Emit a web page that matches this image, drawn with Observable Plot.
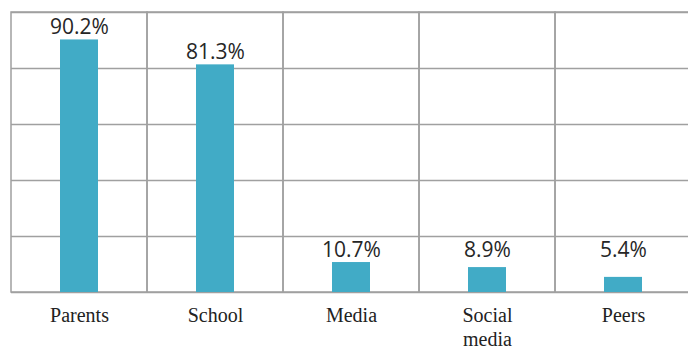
<!DOCTYPE html>
<html><head><meta charset="utf-8">
<script src="https://cdn.jsdelivr.net/npm/d3@7"></script>
<script src="https://cdn.jsdelivr.net/npm/@observablehq/plot@0.6"></script>
<style>
body{margin:0;background:#fff}
g[aria-label="category-labels"] text{font-family:"Liberation Serif","Times New Roman",serif !important;}
g[aria-label="value-labels"] text{font-family:"Open Sans",sans-serif !important;}
</style>
</head><body><div id="chart"></div>
<script>
const categories = ["Parents", "School", "Media", "Social media", "Peers"];
const tickLabels = ["Parents", "School", "Media", "Social\nmedia", "Peers"];
const values = [90.2, 81.3, 10.7, 8.9, 5.4];
const gridTicks = [0, 20, 40, 60, 80, 100];
const labelFloor = 10.7;

const data = categories.map((c, i) => ({category: c, label: tickLabels[i], value: values[i]}));
const gridColor = "#a0a0a0";

const chart = Plot.plot({
  width: 688,
  height: 349,
  marginLeft: 11,
  marginRight: -3,
  marginTop: 12,
  marginBottom: 57,
  x: {type: "band", domain: categories, padding: 0, axis: null},
  y: {domain: [0, 100], axis: null},
  marks: [
    Plot.ruleY(gridTicks, {stroke: gridColor, strokeWidth: 1.5}),
    Plot.barY(data, {x: "category", y1: 0, y2: 100, fill: "none", stroke: gridColor, strokeWidth: 1.5}),
    Plot.barY(data, {x: "category", y: "value", fill: "#41abc6", insetLeft: 49, insetRight: 49}),
    Plot.text(data, {x: "category", y: d => Math.max(d.value, labelFloor), text: d => d.value.toFixed(1) + "%",
      ariaLabel: "value-labels",
      dy: -5.5, lineAnchor: "bottom", fontSize: 21, fontFamily: "Open Sans", fill: "#262626"}),
    Plot.text(data, {x: "category", y: 0, text: "label", lineAnchor: "top", dy: 12, lineHeight: 1.2,
      ariaLabel: "category-labels",
      fontSize: 20, fontFamily: "Liberation Serif", fill: "#222"})
  ]
});
document.getElementById("chart").appendChild(chart);
</script>
</body></html>
